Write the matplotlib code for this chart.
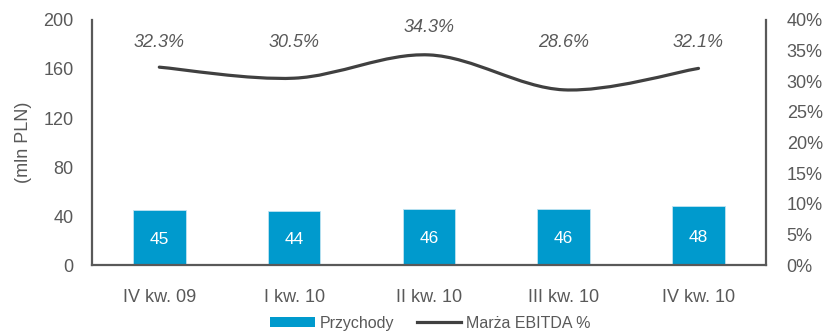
import matplotlib
matplotlib.use("Agg")
import matplotlib.pyplot as plt
import numpy as np
from matplotlib.path import Path
from matplotlib.patches import PathPatch, Patch
from matplotlib.lines import Line2D

plt.rcParams['font.family'] = ['Liberation Sans', 'DejaVu Sans']

categories = ["IV kw. 09", "I kw. 10", "II kw. 10", "III kw. 10", "IV kw. 10"]
revenue = [45, 44, 46, 46, 48]
ebitda_margin = [32.3, 30.5, 34.3, 28.6, 32.1]
margin_labels = ["32.3%", "30.5%", "34.3%", "28.6%", "32.1%"]
margin_label_y = [36.4, 36.4, 38.7, 36.4, 36.4]
left_ticks = [0, 40, 80, 120, 160, 200]
right_ticks = [0, 5, 10, 15, 20, 25, 30, 35, 40]

BAR = "#009ACD"
LINE = "#404040"
TXT = "#595959"

fig = plt.figure(figsize=(8.28, 3.33), dpi=100)
ax = fig.add_axes([0.111, 0.204, 0.814, 0.736])
ax2 = ax.twinx()

x = np.arange(len(categories))
ax.bar(x, revenue, width=0.39, color=BAR, edgecolor="#BFE3F2", linewidth=0.6, zorder=2)
for xi, v in zip(x, revenue):
    ax.text(xi, v / 2 - 1.5, str(v), ha="center", va="center", color="white", fontsize=12.5, zorder=3)

ax.set_xlim(-0.5, len(categories) - 0.5)
ax.set_ylim(0, 200)
ax.set_yticks(left_ticks)
ax.set_xticks(x)
ax.set_xticklabels(categories)
ax.set_ylabel("(mln PLN)", fontsize=13, color=TXT, labelpad=8)
ax.tick_params(axis="y", length=0, pad=13, labelsize=13, labelcolor=TXT)
ax.tick_params(axis="x", length=0, pad=17, labelsize=13, labelcolor=TXT)

ax2.set_ylim(0, 40)
ax2.set_yticks(right_ticks)
ax2.set_yticklabels([f"{t}%" for t in right_ticks])
ax2.tick_params(axis="y", length=0, pad=15, labelsize=13, labelcolor=TXT)

for a in (ax, ax2):
    a.spines["top"].set_visible(False)
    for s in ("left", "right", "bottom"):
        a.spines[s].set_color(TXT)
        a.spines[s].set_linewidth(1.6)
ax.spines["right"].set_visible(False)
ax2.spines["left"].set_visible(False)
ax2.spines["bottom"].set_visible(False)

# smoothed margin line (Catmull-Rom style cubic Bezier segments)
px = x.astype(float)
py = np.array(ebitda_margin, dtype=float)
n = len(px)
verts = [(px[0], py[0])]
codes = [Path.MOVETO]
for i in range(n - 1):
    i0 = max(i - 1, 0)
    i3 = min(i + 2, n - 1)
    c1 = (px[i] + (px[i + 1] - px[i0]) / 6, py[i] + (py[i + 1] - py[i0]) / 6)
    c2 = (px[i + 1] - (px[i3] - px[i]) / 6, py[i + 1] - (py[i3] - py[i]) / 6)
    verts += [c1, c2, (px[i + 1], py[i + 1])]
    codes += [Path.CURVE4] * 3
ax2.add_patch(PathPatch(Path(verts, codes), facecolor="none", edgecolor=LINE,
                        linewidth=2.3, capstyle="round", zorder=3))

for xi, lab, ly in zip(x, margin_labels, margin_label_y):
    ax2.text(xi, ly, lab, ha="center", va="center", fontsize=13, style="italic", color=TXT)

handles = [Patch(facecolor=BAR, edgecolor="none"),
           Line2D([0], [0], color=LINE, linewidth=2.3)]
fig.legend(handles, ["Przychody", "Marża EBITDA %"], loc="center", bbox_to_anchor=(0.52, 0.03),
           ncol=2, frameon=False, fontsize=11.5, labelcolor=TXT, handlelength=2.8,
           handleheight=0.6, columnspacing=1.4, handletextpad=0.3)

fig.savefig("out.png", dpi=100)
